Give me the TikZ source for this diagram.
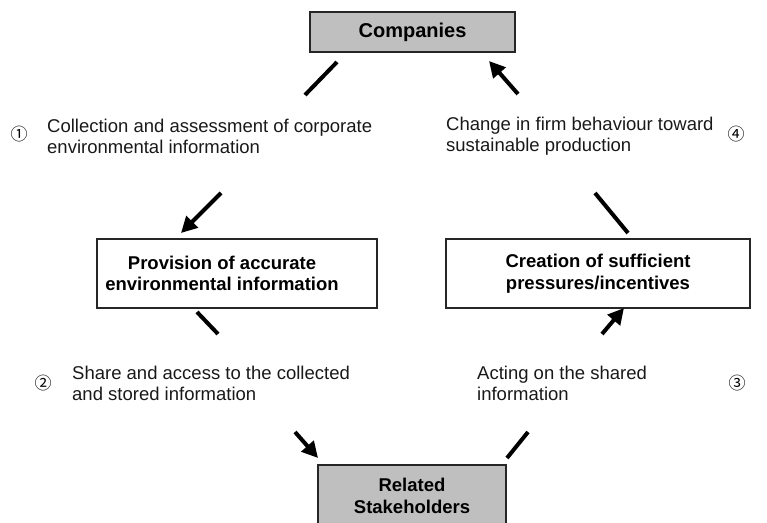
\documentclass[tikz,border=0pt]{standalone}
\usepackage{fontspec}
\setmainfont{Liberation Sans}
\newfontfamily\circfont{Noto Sans CJK JP}
\usetikzlibrary{arrows.meta}
\begin{document}
\begin{tikzpicture}[x=1pt,y=-1pt,
  box/.style={draw=black!85, line width=1.3pt, align=center, inner sep=0pt,
    font=\bfseries\fontsize{18.5}{21.5}\selectfont},
  graybox/.style={box, fill=gray!50},
  boxtext/.style={align=center, inner sep=0pt,
    font=\bfseries\fontsize{18.5}{21.5}\selectfont},
  lbl/.style={anchor=west, align=left, inner sep=0pt, text=black!90,
    font=\fontsize{18.5}{21}\selectfont},
  num/.style={inner sep=0pt, font=\circfont\fontsize{17}{17}\selectfont},
  seg/.style={line width=4pt},
  arr/.style={line width=4pt, -{Triangle[length=16pt,width=16pt]}}]
\useasboundingbox (0,0) rectangle (767,522);
% boxes
\node[graybox, minimum width=205pt, minimum height=40pt,
  font=\bfseries\fontsize{20}{24}\selectfont] (comp) at (412.5,32) {Companies};
\node[box, minimum width=280pt, minimum height=69pt] (prov) at (237,273.5) {};
\node[boxtext] (provt) at (222,273.5)
  {Provision of accurate\\environmental information};
\node[box, minimum width=304pt, minimum height=69pt] (crea) at (598,273.5)
  {Creation of sufficient\\pressures/incentives};
\node[graybox, minimum width=188pt, minimum height=62pt] (stak) at (412,496)
  {Related\\Stakeholders};
% labels
\node[num] (n1) at (19,134) {①};
\node[lbl] (t1) at (47,136.5) {Collection and assessment of corporate\\environmental information};
\node[num] (n2) at (43,383) {②};
\node[lbl] (t2) at (72,383) {Share and access to the collected\\and stored information};
\node[num] (n3) at (737,383) {③};
\node[lbl] (t3) at (477,383) {Acting on the shared\\information};
\node[num] (n4) at (736,134) {④};
\node[lbl] (t4) at (446,136.5) {Change in firm behaviour toward\\sustainable production};
% arrow coordinates
\coordinate (a1s) at (337,62);  \coordinate (a1m) at (305,95);
\coordinate (a1n) at (221,193); \coordinate (a1e) at (181,233);
\coordinate (a2s) at (197,312); \coordinate (a2m) at (218,334);
\coordinate (a2n) at (295,432); \coordinate (a2e) at (318,458);
\coordinate (a3s) at (507,458); \coordinate (a3m) at (528,432);
\coordinate (a3n) at (602,334); \coordinate (a3e) at (624,308);
\coordinate (a4s) at (628,233); \coordinate (a4m) at (595,193);
\coordinate (a4n) at (518,94);  \coordinate (a4e) at (489,61);
% arrows
\draw[seg] (a1s) -- (a1m);
\draw[arr] (a1n) -- (a1e);
\draw[seg] (a2s) -- (a2m);
\draw[arr] (a2n) -- (a2e);
\draw[seg] (a3s) -- (a3m);
\draw[arr] (a3n) -- (a3e);
\draw[seg] (a4s) -- (a4m);
\draw[arr] (a4n) -- (a4e);
\end{tikzpicture}
\end{document}
